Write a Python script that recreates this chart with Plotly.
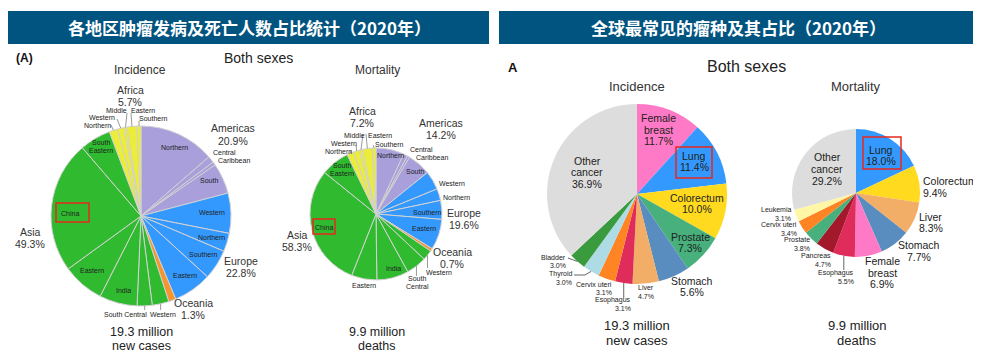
import math
import plotly.graph_objects as go

W, H = 981, 357          # browser window
OX, OY = 8, 8            # default page body margin
FW, FH = W - OX, H - OY  # figure size

# ---------------- data ----------------
# Left panel: share (%) of cases / deaths by world region and sub-region (2020)
region_of = ["Americas", "Americas", "Americas", "Americas",
             "Europe", "Europe", "Europe", "Europe",
             "Oceania",
             "Asia", "Asia", "Asia", "Asia", "Asia", "Asia",
             "Africa", "Africa", "Africa", "Africa", "Africa"]
subregions = ["Northern", "Central", "Caribbean", "South",
              "Western", "Northern", "Southern", "Eastern",
              "Oceania",
              "Western", "South Central", "India", "Eastern", "China", "South Eastern",
              "Northern", "Western", "Middle", "Eastern", "Southern"]
sub_incidence = [13.6, 1.2, 0.6, 5.5,
                 7.2, 3.3, 5.4, 6.9,
                 1.3,
                 3.0, 2.7, 6.8, 7.5, 23.7, 5.6,
                 1.5, 1.2, 0.5, 1.8, 0.7]
sub_mortality = [6.9, 1.0, 0.6, 5.7,
                 4.6, 2.9, 4.6, 7.5,
                 0.7,
                 2.5, 5.0, 7.8, 6.2, 29.8, 7.0,
                 1.7, 1.5, 0.7, 2.4, 0.9]
regions = ["Americas", "Europe", "Oceania", "Asia", "Africa"]
region_incidence = [20.9, 22.8, 1.3, 49.3, 5.7]
region_mortality = [14.2, 19.6, 0.7, 58.3, 7.2]

# Right panel: most common cancers (%) (2020)
cancer_inc = ["Female breast", "Lung", "Colorectum", "Prostate", "Stomach", "Liver",
              "Esophagus", "Cervix uteri", "Thyroid", "Bladder", "Other cancer"]
cancer_inc_pct = [11.7, 11.4, 10.0, 7.3, 5.6, 4.7, 3.1, 3.1, 3.0, 3.0, 36.9]
cancer_mort = ["Lung", "Colorectum", "Liver", "Stomach", "Female breast", "Esophagus",
               "Pancreas", "Prostate", "Cervix uteri", "Leukemia", "Other cancer"]
cancer_mort_pct = [18.0, 9.4, 8.3, 7.7, 6.9, 5.5, 4.7, 3.8, 3.4, 3.1, 29.2]

totals_inc = ["19.3 million", "new cases"]
totals_mort = ["9.9 million", "deaths"]

# ---------------- styling ----------------
region_colors = {"Americas": "#A89FDB", "Europe": "#3399FF", "Oceania": "#F7942F",
                 "Asia": "#2FBA2F", "Africa": "#ECEC3A"}
cancer_colors = {"Female breast": "#FF7AC6", "Lung": "#3399FF", "Colorectum": "#FFDA1F",
                 "Prostate": "#47B07C", "Stomach": "#5A8DBF", "Liver": "#F2AE66",
                 "Esophagus": "#E02C5A", "Cervix uteri": "#FF8424", "Thyroid": "#AEDCE6",
                 "Bladder": "#3A9A3E", "Other cancer": "#DDDDDD", "Pancreas": "#A3182A",
                 "Leukemia": "#FFF7A6"}
FONT = "Liberation Sans, Arial, sans-serif"
CJK = "Noto Sans CJK SC"
BAR = "#01547F"

# pie geometry in window pixels (centre x, centre y, radius)
PIES = {
    "L_inc": (141, 216, 90),
    "L_mort": (376, 214, 66),
    "R_inc": (637, 194, 90),
    "R_mort": (856, 193, 64),
}


def P(x, y):
    return (x - OX) / FW, 1 - (y - OY) / FH


def domain(key):
    cx, cy, r = PIES[key]
    x0, y1 = P(cx - r, cy - r)
    x1, y0 = P(cx + r, cy + r)
    return dict(x=[x0, x1], y=[y0, y1])


def mid_angle(vals, i):
    tot = float(sum(vals))
    c = sum(vals[:i])
    return (c + vals[i] / 2.0) / tot * 360.0


def edge(key, vals, i, extra=0):
    cx, cy, r = PIES[key]
    a = math.radians(mid_angle(vals, i))
    return cx + (r + extra) * math.sin(a), cy - (r + extra) * math.cos(a)


fig = go.Figure()

ids_reg = [f"{a} – {b}" for a, b in zip(region_of, subregions)]
for key, vals in (("L_inc", sub_incidence), ("L_mort", sub_mortality)):
    fig.add_trace(go.Pie(values=vals, labels=ids_reg, sort=False, direction="clockwise",
                         rotation=0, textinfo="none", showlegend=False, hoverinfo="label+percent",
                         marker=dict(colors=[region_colors[r] for r in region_of],
                                     line=dict(color="#D2D2D2", width=1)),
                         domain=domain(key)))
for key, names, vals in (("R_inc", cancer_inc, cancer_inc_pct), ("R_mort", cancer_mort, cancer_mort_pct)):
    fig.add_trace(go.Pie(values=vals, labels=names, sort=False, direction="clockwise",
                         rotation=0, textinfo="none", showlegend=False, hoverinfo="label+percent",
                         marker=dict(colors=[cancer_colors[c] for c in names],
                                     line=dict(color="#FFFFFF", width=0)),
                         domain=domain(key)))

ann = []
shapes = []


def text(x, y, s, size, color="#222", anchor="center", bold=False, family=FONT):
    px, py = P(x, y)
    ann.append(dict(x=px, y=py, xref="paper", yref="paper", text=f"<b>{s}</b>" if bold else s,
                    showarrow=False, xanchor=anchor, yanchor="middle", borderpad=0,
                    font=dict(family=family, size=size, color=color)))


def block(x, yc, lines, size, spacing, color="#222", anchor="center"):
    n = len(lines)
    y0 = yc - spacing * (n - 1) / 2.0
    for k, s in enumerate(lines):
        text(x, y0 + k * spacing, s, size, color, anchor)


def line(x0, y0, x1, y1, color="#9A9A9A", width=1):
    a, b = P(x0, y0)
    c, d = P(x1, y1)
    shapes.append(dict(type="line", xref="paper", yref="paper", x0=a, y0=b, x1=c, y1=d,
                       line=dict(color=color, width=width), layer="above"))


def rect(x0, y0, x1, y1, fill=None, color="#E8281E", width=1.5, layer="above"):
    a, b = P(x0, y1)
    c, d = P(x1, y0)
    shapes.append(dict(type="rect", xref="paper", yref="paper", x0=a, y0=b, x1=c, y1=d,
                       line=dict(color=color, width=width),
                       fillcolor=fill if fill else "rgba(0,0,0,0)", layer=layer))


# ---------------- title bars ----------------
rect(8, 11, 489, 44, fill=BAR, color=BAR, width=0, layer="below")
rect(499, 11, 977, 44, fill=BAR, color=BAR, width=0, layer="below")
text(249, 27.5, "各地区肿瘤发病及死亡人数占比统计（2020年）", 17, "white", bold=True, family=CJK)
text(738, 27.5, "全球最常见的瘤种及其占比（2020年）", 17, "white", bold=True, family=CJK)

# ---------------- left panel ----------------
text(24, 58, "(A)", 12, "#111", bold=True)
text(258, 58, "Both sexes", 14, "#222")
text(140, 70, "Incidence", 12, "#333")
text(377, 70, "Mortality", 12, "#333")
block(141, 338.5, totals_inc, 12.5, 14, "#222")
block(377, 338.5, totals_mort, 12.5, 14, "#222")

# region totals
pos_reg_inc = {"Africa": (130, 96), "Americas": (233, 134.5), "Europe": (241, 267),
               "Oceania": (193, 309), "Asia": (30, 237.5)}
pos_reg_mort = {"Africa": (362, 117), "Americas": (441, 129), "Europe": (464, 219),
                "Oceania": (452, 258), "Asia": (297, 240.5)}
for name, v in zip(regions, region_incidence):
    x, y = pos_reg_inc[name]
    block(x, y, [name, f"{v}%"], 10.5, 12, "#333")
for name, v in zip(regions, region_mortality):
    x, y = pos_reg_mort[name]
    block(x, y, [name, f"{v}%"], 10.5, 12, "#333")

# sub-region labels (index -> pixel position)
sub_pos_inc = {0: (174, 147), 1: (224, 152.5), 2: (234, 160), 3: (209, 180),
               4: (212, 212), 5: (211, 237), 6: (203, 254), 7: (185, 275),
               9: (163, 314), 10: (125, 314), 11: (123, 290), 12: (92, 270),
               13: (70, 213), 14: (101, 146.5),
               15: (97, 125), 16: (102, 117), 17: (116, 110), 18: (143, 110), 19: (153, 118)}
sub_pos_mort = {0: (390, 155), 1: (421, 149.5), 2: (432, 157.5), 3: (415, 172),
                4: (452, 183), 5: (456, 197), 6: (427, 212), 7: (424, 229),
                9: (439, 272), 10: (417, 282), 11: (393, 268), 12: (364, 285),
                13: (324, 227), 14: (342, 169.5),
                15: (338, 151), 16: (344, 143.5), 17: (354, 136), 18: (380, 136), 19: (389, 144)}
wrap_inc = {14}
wrap_mort = {10, 14}
for i, (x, y) in sub_pos_inc.items():
    block(x, y, subregions[i].split(" ") if i in wrap_inc else [subregions[i]], 7, 8, "#222")
for i, (x, y) in sub_pos_mort.items():
    block(x, y, subregions[i].split(" ") if i in wrap_mort else [subregions[i]], 7, 8, "#222")

# China boxes
rect(56, 203, 89, 222)
rect(313, 219, 335, 234)

# leader lines (from slice edge at mid-angle to label)
lead_inc = {15: (111, 125), 16: (117, 119), 17: (127, 113), 18: (131, 113), 19: (139, 121),
            9: None, 10: None}
for i, tgt in lead_inc.items():
    ex, ey = edge("L_inc", sub_incidence, i)
    if tgt is None:
        line(ex, ey, ex, 310)
    else:
        line(ex, ey, tgt[0], tgt[1])
lead_mort = {15: (351, 150), 16: (356, 145), 17: (363, 134), 18: (366, 134), 19: (373, 145),
             9: None, 10: None}
for i, tgt in lead_mort.items():
    ex, ey = edge("L_mort", sub_mortality, i)
    if tgt is None:
        line(ex, ey, ex, 268 if i == 9 else 276)
    else:
        line(ex, ey, tgt[0], tgt[1])

# ---------------- right panel ----------------
text(513, 67, "A", 13, "#111", bold=True)
text(746, 66, "Both sexes", 16, "#222")
text(637, 86, "Incidence", 13, "#333")
text(856, 86, "Mortality", 13, "#333")
block(637, 333, totals_inc, 13, 14.5, "#222")
block(857, 333, totals_mort, 13, 14.5, "#222")


def lab_lines(name, v):
    if name in ("Female breast", "Other cancer"):
        return name.split(" ") + [f"{v}%"]
    return [name, f"{v}%"]


# incidence labels: (x, y, size, anchor)
pos_c_inc = {"Female breast": (658, 129.5, 10.5, "center"),
             "Lung": (694, 161.5, 10.5, "center"),
             "Colorectum": (697, 203.5, 10.5, "center"),
             "Prostate": (690, 242.5, 10.5, "center"),
             "Stomach": (692, 286.5, 10.5, "center"),
             "Liver": (646, 292, 7, "center"),
             "Esophagus": (632, 304, 7, "right"),
             "Cervix uteri": (613, 288.5, 7, "right"),
             "Thyroid": (573, 278, 7, "right"),
             "Bladder": (567, 261.5, 7, "right"),
             "Other cancer": (587, 172, 10.5, "center")}
for name, v in zip(cancer_inc, cancer_inc_pct):
    x, y, s, a = pos_c_inc[name]
    block(x, y, lab_lines(name, v), s, 11.5 if s > 8 else 8.5, "#222", a)

pos_c_mort = {"Lung": (881, 155.5, 10.5, "center"),
              "Colorectum": (922, 187, 10.5, "left"),
              "Liver": (918, 222.5, 10.5, "left"),
              "Stomach": (919, 251, 10.5, "center"),
              "Female breast": (882, 272.5, 10.5, "center"),
              "Esophagus": (855, 277.5, 7, "right"),
              "Pancreas": (832, 260, 7, "right"),
              "Prostate": (811, 244, 7, "right"),
              "Cervix uteri": (798, 229, 7, "right"),
              "Leukemia": (792, 214, 7, "right"),
              "Other cancer": (827, 169, 10.5, "center")}
for name, v in zip(cancer_mort, cancer_mort_pct):
    x, y, s, a = pos_c_mort[name]
    block(x, y, lab_lines(name, v), s, 11.5 if s > 8 else 8.5, "#222", a)

# Lung boxes
rect(676, 147, 712, 178)
rect(863, 137, 901, 169)

# right leader lines
ex, ey = edge("R_inc", cancer_inc_pct, cancer_inc.index("Esophagus"))
line(ex, ey, ex, 298, "#666")
ex, ey = edge("R_inc", cancer_inc_pct, cancer_inc.index("Thyroid"))
line(ex, ey, 585, 275, "#666")
line(585, 275, 574, 275, "#666")
ex, ey = edge("R_inc", cancer_inc_pct, cancer_inc.index("Bladder"))
line(ex, ey, 568, 258, "#666")
ex, ey = edge("R_mort", cancer_mort_pct, cancer_mort.index("Esophagus"))
line(ex, ey, ex, 270, "#666")

fig.update_layout(width=FW, height=FH, margin=dict(l=0, r=0, t=0, b=0),
                  paper_bgcolor="white", plot_bgcolor="white",
                  annotations=ann, shapes=shapes, showlegend=False)
fig.write_html("out.html")
